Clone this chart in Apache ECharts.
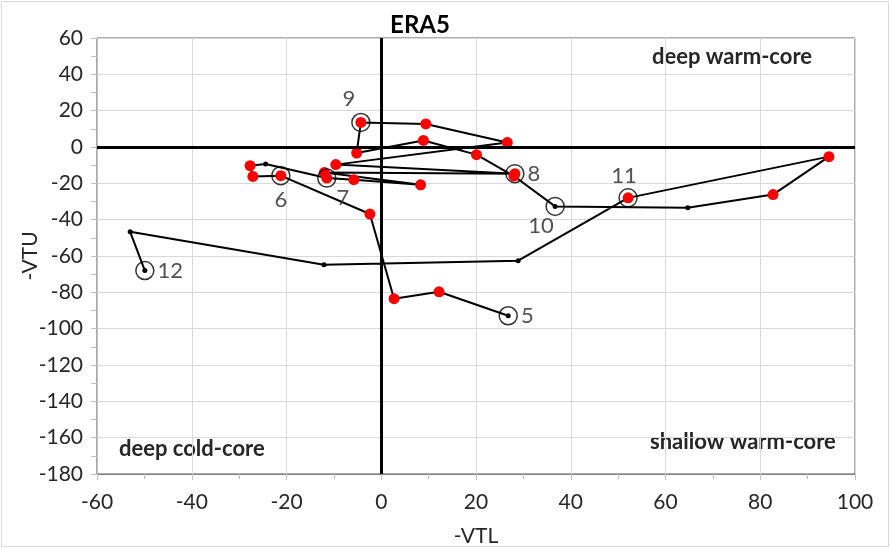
<!DOCTYPE html>
<html>
<head>
<meta charset="utf-8">
<script src="https://cdn.jsdelivr.net/npm/echarts@6/dist/echarts.min.js"></script>
<style>
  html, body { margin: 0; padding: 0; background: #fff; }
  #main { width: 891px; height: 549px; }
</style>
</head>
<body>
<div id="main"></div>
<script>
// trajectory, 6-hourly (-VTL, -VTU)
const vtl = [26.8, 12.2, 2.7, -2.4, -21.2, -27.1, -27.7, -24.4, -11.5, -5.8,
  8.3, -12.0, 28.2, -9.6, 26.6, 9.4, -4.3, -5.2, 8.9, 20.1,
  28.0, 36.7, 64.7, 82.7, 94.5, 52.1, 28.9, -12.1, -53.0, -49.9];
const vtu = [-92.9, -79.7, -83.5, -36.9, -15.8, -16.2, -10.3, -9.4, -17.1, -18.0,
  -20.8, -14.0, -14.7, -9.7, 2.5, 12.7, 13.5, -3.3, 3.6, -4.2,
  -16.0, -32.7, -33.4, -26.2, -5.3, -28.0, -62.6, -64.8, -46.7, -68.0];
// 1 = red marker, 0 = small black marker
const isRed = [0, 1, 1, 1, 1, 1, 1, 0, 1, 1,
  1, 1, 1, 1, 1, 1, 1, 1, 1, 1,
  1, 0, 0, 1, 1, 1, 0, 0, 0, 0];
// day markers (00 UTC) as indices into the trajectory
const dayIndex = [0, 4, 8, 12, 16, 21, 25, 29];
const dayLabels = ['5', '6', '7', '8', '9', '10', '11', '12'];

const FONT = 'Lato, "Open Sans", sans-serif';

const labelPlace = {
  '5': { position: 'right', distance: 3 },
  '6': { position: 'bottom', distance: 3 },
  '7': { position: 'bottom', distance: -1, offset: [16, 0] },
  '8': { position: 'right', distance: 3 },
  '9': { position: 'top', distance: 3, offset: [-12, 0] },
  '10': { position: 'bottom', distance: -1, offset: [-14, 0] },
  '11': { position: 'top', distance: 1, offset: [-4, 0] },
  '12': { position: 'right', distance: 3 }
};

const pathData = vtl.map((x, i) => ({
  value: [x, vtu[i]],
  symbolSize: isRed[i] ? 11 : 5,
  itemStyle: { color: isRed[i] ? '#ff0000' : '#000000' }
}));

const dayData = dayIndex.map((k, j) => ({
  value: [vtl[k], vtu[k]],
  name: dayLabels[j],
  label: Object.assign({ show: true }, labelPlace[dayLabels[j]])
}));

const chart = echarts.init(document.getElementById('main'));
chart.setOption({
  backgroundColor: '#ffffff',
  animation: false,
  textStyle: { fontFamily: FONT },
  title: {
    text: 'ERA5',
    left: 415,
    top: 8,
    textAlign: 'center',
    textStyle: { fontFamily: FONT, fontSize: 24, fontWeight: 'bold', color: '#000' }
  },
  grid: {
    left: 97, right: 36, top: 38, bottom: 75,
    outerBoundsMode: 'none',
    show: true, borderColor: '#595959', borderWidth: 1
  },
  xAxis: {
    type: 'value',
    min: -60, max: 100, interval: 20,
    name: '-VTL', nameLocation: 'middle', nameGap: 52,
    nameTextStyle: { fontFamily: FONT, fontSize: 21, color: '#262626' },
    axisLine: { onZero: false, lineStyle: { color: '#808080', width: 1 } },
    axisTick: { show: true, length: 6, inside: false, lineStyle: { color: '#bfbfbf' } },
    minorTick: { show: true, splitNumber: 2, length: 5, lineStyle: { color: '#bfbfbf' } },
    axisLabel: { fontFamily: FONT, fontSize: 21, color: '#262626', margin: 18 },
    splitLine: { show: true, lineStyle: { color: '#d9d9d9', width: 1 } }
  },
  yAxis: {
    type: 'value',
    min: -180, max: 60, interval: 20,
    name: '-VTU', nameLocation: 'middle', nameGap: 56,
    nameMoveOverlap: false,
    nameTextStyle: { fontFamily: FONT, fontSize: 21, color: '#262626' },
    axisLine: { onZero: false, lineStyle: { color: '#bfbfbf', width: 1 } },
    axisTick: { show: true, length: 6, lineStyle: { color: '#bfbfbf' } },
    minorTick: { show: true, splitNumber: 2, length: 6, lineStyle: { color: '#bfbfbf' } },
    axisLabel: { fontFamily: FONT, fontSize: 21, color: '#262626', margin: 14 },
    splitLine: { show: true, lineStyle: { color: '#d9d9d9', width: 1 } }
  },
  graphic: [
    { type: 'rect', shape: { x: 1.5, y: 1.5, width: 887, height: 545 },
      style: { fill: 'none', stroke: '#d9d9d9', lineWidth: 1 }, silent: true },
    { type: 'text', left: 652, top: 46,
      style: { text: 'deep warm-core', font: 'bold 22px ' + FONT, fill: '#262626' } },
    { type: 'text', left: 119, top: 438,
      style: { text: 'deep cold-core', font: 'bold 22px ' + FONT, fill: '#262626' } },
    { type: 'text', left: 650, top: 431,
      style: { text: 'shallow warm-core', font: 'bold 22px ' + FONT, fill: '#262626' } }
  ],
  series: [
    {
      type: 'line',
      data: pathData,
      symbol: 'circle',
      showAllSymbol: true,
      lineStyle: { color: '#000', width: 2 },
      z: 3,
      markLine: {
        silent: true,
        symbol: ['none', 'none'],
        label: { show: false },
        lineStyle: { color: '#000', width: 3, type: 'solid' },
        data: [{ xAxis: 0 }, { yAxis: 0 }]
      }
    },
    {
      type: 'scatter',
      data: dayData,
      symbol: 'circle',
      symbolSize: 18,
      itemStyle: { color: 'rgba(0,0,0,0)', borderColor: '#000', borderWidth: 1.5 },
      label: {
        show: true,
        formatter: '{b}',
        fontFamily: FONT,
        fontSize: 22,
        color: '#262626'
      },
      z: 4
    }
  ]
});
</script>
</body>
</html>
